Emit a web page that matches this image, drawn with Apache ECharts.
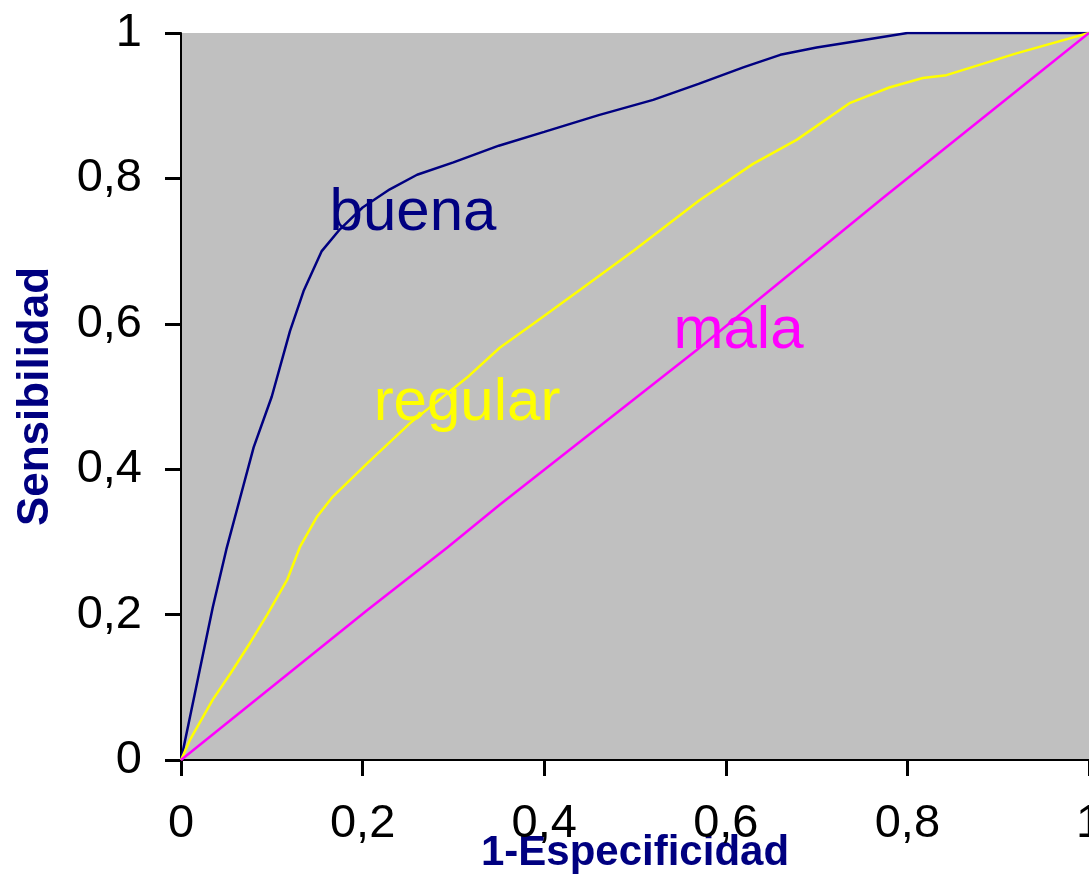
<!DOCTYPE html>
<html>
<head>
<meta charset="utf-8">
<script src="https://cdn.jsdelivr.net/npm/echarts@6/dist/echarts.min.js"></script>
<style>
html,body{margin:0;padding:0;background:#fff;}
#chart{width:1089px;height:876px;}
</style>
</head>
<body>
<div id="chart"></div>
<script>
// Data: [1-Especificidad, Sensibilidad]
var buena = [[0,0],[0.01,0.06],[0.02,0.12],[0.035,0.21],[0.05,0.29],[0.065,0.36],[0.08,0.43],[0.1,0.50],[0.12,0.59],[0.135,0.645],[0.155,0.70],[0.175,0.73],[0.2,0.76],[0.23,0.785],[0.26,0.805],[0.3,0.822],[0.35,0.845],[0.4,0.864],[0.46,0.887],[0.52,0.908],[0.57,0.93],[0.62,0.953],[0.66,0.97],[0.7,0.98],[0.74,0.988],[0.8,1.0],[1,1]];
var regular = [[0,0],[0.01,0.028],[0.035,0.083],[0.055,0.12],[0.076,0.161],[0.095,0.2],[0.117,0.248],[0.131,0.293],[0.15,0.335],[0.167,0.362],[0.205,0.408],[0.252,0.463],[0.315,0.526],[0.351,0.567],[0.388,0.60],[0.443,0.65],[0.498,0.70],[0.571,0.77],[0.63,0.82],[0.678,0.853],[0.737,0.904],[0.78,0.925],[0.817,0.938],[0.843,0.942],[0.92,0.972],[1,1]];
var mala = [[0,0],[0.205,0.206],[0.293,0.292],[0.351,0.351],[0.568,0.564],[0.773,0.773],[0.938,0.938],[1,1]];
var seriesNames = ['buena','regular','mala'];
// label anchor positions (data space) for curve names
var labelPos = {buena:[0.2555,0.752], regular:[0.315,0.49], mala:[0.614,0.589]};
var xTitle = '1-Especificidad';
var yTitle = 'Sensibilidad';

var colors = {buena:'#000080', regular:'#FFFF00', mala:'#FF00FF'};
var dataMap = {buena:buena, regular:regular, mala:mala};
var fmt = function(v){ return String(Math.round(v*10)/10).replace('.', ','); };
var tickFont = '"Liberation Sans", Arial, sans-serif';

var chart = echarts.init(document.getElementById('chart'));
chart.setOption({
  animation:false,
  backgroundColor:'#ffffff',
  grid:{left:181, top:33, right:0, bottom:116, show:true, backgroundColor:'#C0C0C0', borderWidth:0, containLabel:false, outerBoundsMode:'none'},
  xAxis:{
    type:'value', min:0, max:1, interval:0.2,
    name:xTitle, nameLocation:'middle', nameGap:72, nameMoveOverlap:false,
    nameTextStyle:{color:'#000080', fontSize:42, fontWeight:'bold', fontFamily:'Liberation Sans, Arial, sans-serif'},
    axisLine:{show:true, lineStyle:{color:'#000', width:2}},
    axisTick:{show:true, inside:false, length:16, lineStyle:{color:'#000', width:3}},
    axisLabel:{formatter:fmt, color:'#000', fontSize:47, fontFamily:tickFont, margin:41, hideOverlap:false},
    splitLine:{show:false}
  },
  yAxis:{
    type:'value', min:0, max:1, interval:0.2,
    name:yTitle, nameLocation:'middle', nameGap:123, nameRotate:90, nameMoveOverlap:false,
    nameTextStyle:{color:'#000080', fontSize:44, fontWeight:'bold', fontFamily:'Liberation Sans, Arial, sans-serif'},
    axisLine:{show:true, lineStyle:{color:'#000', width:2}},
    axisTick:{show:true, inside:false, length:16, lineStyle:{color:'#000', width:3}},
    axisLabel:{formatter:fmt, color:'#000', fontSize:47, fontFamily:tickFont, margin:39, hideOverlap:false},
    splitLine:{show:false}
  },
  series: seriesNames.map(function(n){
    return {
      name:n, type:'line', data:dataMap[n], showSymbol:false, smooth:false,
      lineStyle:{color:colors[n], width:2.5}, itemStyle:{color:colors[n]},
      markPoint:{
        symbol:'circle', symbolSize:0,
        data:[{coord:labelPos[n], value:n}],
        label:{show:true, formatter:n, color:colors[n], fontSize:60, fontFamily:'Liberation Sans, Arial, sans-serif', position:'inside'}
      }
    };
  })
});
</script>
</body>
</html>
